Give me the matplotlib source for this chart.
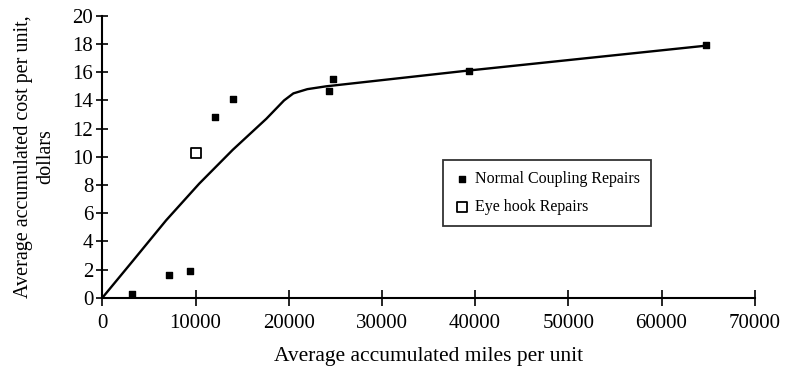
import matplotlib
matplotlib.use("Agg")
import matplotlib.pyplot as plt

# data
normal_miles = [3200, 7200, 9400, 12100, 14000, 24300, 24800, 39300, 64800]
normal_cost = [0.3, 1.6, 1.9, 12.8, 14.1, 14.7, 15.5, 16.1, 17.9]
eyehook_miles = [10100]
eyehook_cost = [10.3]
fit_miles = [0, 3250, 6850, 10400, 14000, 17600, 19500, 20500, 22000, 24000, 39000, 65000]
fit_cost = [0, 2.6, 5.5, 8.1, 10.5, 12.7, 14.0, 14.5, 14.8, 15.0, 16.1, 17.9]

plt.rcParams['font.family'] = ['Liberation Serif', 'DejaVu Serif']

fig = plt.figure(figsize=(7.87, 3.77), dpi=100)
ax = fig.add_axes([0.130, 0.21, 0.829, 0.748])

ax.plot(fit_miles, fit_cost, color='black', lw=1.7, zorder=2)
ax.scatter(normal_miles, normal_cost, marker='s', s=24, color='black',
           label='Normal Coupling Repairs', zorder=3)
ax.scatter(eyehook_miles, eyehook_cost, marker='s', s=45, facecolor='white',
           edgecolor='black', linewidth=1.3, label='Eye hook Repairs', zorder=3)

ax.set_xlim(0, 70000)
ax.set_ylim(0, 20)
ax.set_xticks(range(0, 70001, 10000))
ax.set_yticks(range(0, 21, 2))
ax.tick_params(axis='y', direction='inout', length=9, width=1.2, labelsize=15, pad=2)
ax.tick_params(axis='x', direction='inout', length=12, width=1.2, labelsize=15, pad=6)
for s in ['top', 'right']:
    ax.spines[s].set_visible(False)
for s in ['left', 'bottom']:
    ax.spines[s].set_linewidth(1.5)

ax.set_xlabel('Average accumulated miles per unit', fontsize=15.5, labelpad=10)
ax.set_ylabel('Average accumulated cost per unit,\ndollars', fontsize=14.5,
              labelpad=12, linespacing=1.25)

leg = ax.legend(loc='upper left', bbox_to_anchor=(0.522, 0.49), fontsize=11.5,
                frameon=True, fancybox=False, edgecolor='black',
                handletextpad=0.3, borderpad=0.7, labelspacing=0.75,
                handlelength=1.0, borderaxespad=0)
leg.get_frame().set_linewidth(1.3)

fig.savefig('out.png', dpi=100)
